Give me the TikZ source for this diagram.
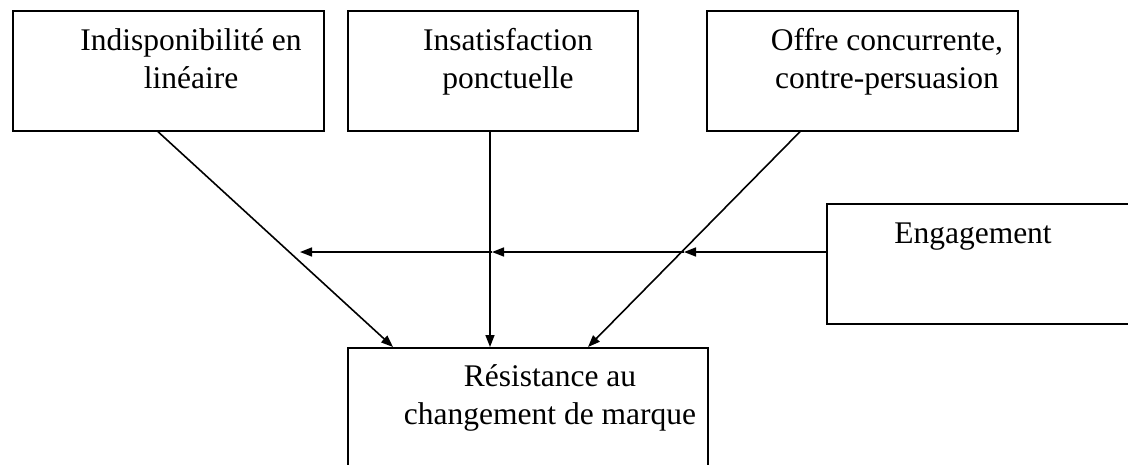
\documentclass[tikz,border=0pt]{standalone}
\usepackage{fontspec}
\setmainfont{Liberation Serif}
\usetikzlibrary{arrows.meta}
\tikzset{
  box/.style={draw, line width=1.7pt, anchor=north west, inner sep=0pt},
  boxtext/.style={anchor=base, align=center, inner sep=0pt, font=\fontsize{31.5}{37.5}\selectfont},
  arr/.style={-{Triangle[length=12pt,width=9pt]}, line width=1.6pt},
}
\begin{document}
\begin{tikzpicture}[x=1pt, y=-1pt]
    \clip (0,0) rectangle (1128,464);
    % boxes
    \node[box, minimum width=311pt, minimum height=120pt] (indispo) at (12,10) {};
    \node[box, minimum width=290pt, minimum height=120pt] (insat) at (347,10) {};
    \node[box, minimum width=311pt, minimum height=120pt] (offre) at (706,10) {};
    \node[box, minimum width=330pt, minimum height=120pt] (engag) at (826,203) {};
    \node[box, minimum width=360pt, minimum height=140pt] (resist) at (347,347) {};
    % texts
    \node[boxtext] (indispoT) at (191,88) {Indisponibilité en\\linéaire};
    \node[boxtext] (insatT) at (508,88) {Insatisfaction\\ponctuelle};
    \node[boxtext] (offreT) at (887,88) {Offre concurrente,\\contre-persuasion};
    \node[boxtext] (engagT) at (973,243) {Engagement};
    \node[boxtext] (resistT) at (550,424) {Résistance au\\changement de marque};
    % arrows
    \draw[arr] (158,0 |- indispo.south) -- (393,0 |- resist.north);
    \draw[arr] (insat.south -| 490,0) -- (resist.north -| 490,0);
    \draw[arr] (800,0 |- offre.south) -- (588,0 |- resist.north);
    \coordinate (c1) at (684,252);
    \coordinate (c2) at (492,252);
    \coordinate (c3) at (300,252);
    \draw[arr] (engag.west |- 0,252) -- (c1);
    \draw[arr] (c1) -- (c2);
    \draw[arr] (c2) -- (c3);
\end{tikzpicture}
\end{document}
